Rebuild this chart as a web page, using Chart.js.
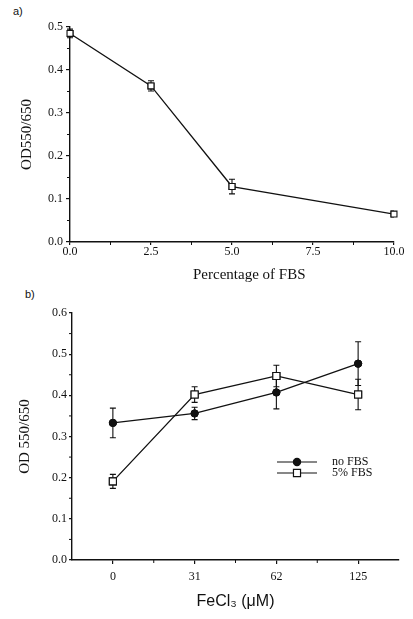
<!DOCTYPE html>
<html>
<head>
<meta charset="utf-8">
<script src="https://cdn.jsdelivr.net/npm/chart.js@4/dist/chart.umd.min.js"></script>
<style>
  body { margin: 0; background: #fff; width: 413px; height: 619px; position: relative; overflow: hidden; }
  .box { position: absolute; left: 0; }
  .lbl { position: absolute; font-family: "Liberation Sans", Arial, sans-serif; color: #111; }
  .ttl { position: absolute; font-family: "Liberation Serif", "Times New Roman", serif; color: #111; white-space: nowrap; }
</style>
</head>
<body>
<div class="lbl" style="left:13px; top:5px; font-size:11px;">a)</div>
<div class="lbl" style="left:25px; top:288px; font-size:11px;">b)</div>
<div class="box" style="top:0; width:413px; height:290px;"><canvas id="chartA" width="413" height="290"></canvas></div>
<div class="ttl" style="left:193px; top:266px; font-size:15px;">Percentage of FBS</div>
<div class="box" style="top:290px; width:413px; height:329px;"><canvas id="chartB" width="413" height="329"></canvas></div>

<script>
// Panel a: OD vs percentage of FBS
const fbsPercent = [0, 2.5, 5, 10];
const odFbs = [0.485, 0.363, 0.129, 0.065];
const odFbsErr = [0.010, 0.012, 0.017, 0.005];

// Panel b: OD vs FeCl3
const fecl3Labels = ['0', '31', '62', '125'];
const noFbs = [0.333, 0.356, 0.407, 0.477];
const noFbsErr = [0.036, 0.015, 0.040, 0.053];
const fbs5 = [0.191, 0.402, 0.447, 0.402];
const fbs5Err = [0.017, 0.019, 0.026, 0.037];

const serif = '"Liberation Serif", "Times New Roman", serif';
const ink = '#111';

// error bars, markers redrawn on top
const errorBars = {
  id: 'errorBars',
  afterDatasetsDraw(chart) {
    const ctx = chart.ctx;
    const ys = chart.scales.y;
    chart.data.datasets.forEach((ds, i) => {
      if (!ds.errors) return;
      const meta = chart.getDatasetMeta(i);
      meta.data.forEach((pt, j) => {
        const v = ds.data[j];
        const val = typeof v === 'object' ? v.y : v;
        const top = ys.getPixelForValue(val + ds.errors[j]);
        const bot = ys.getPixelForValue(val - ds.errors[j]);
        ctx.save();
        ctx.strokeStyle = ink;
        ctx.lineWidth = 1.1;
        ctx.beginPath();
        ctx.moveTo(pt.x, top); ctx.lineTo(pt.x, bot);
        ctx.moveTo(pt.x - 3, top); ctx.lineTo(pt.x + 3, top);
        ctx.moveTo(pt.x - 3, bot); ctx.lineTo(pt.x + 3, bot);
        ctx.stroke();
        ctx.restore();
      });
      meta.data.forEach(pt => pt.draw(ctx, chart.chartArea));
    });
  }
};

// minor ticks halfway between major ones
const minorTicks = {
  id: 'minorTicks',
  afterDraw(chart) {
    const ctx = chart.ctx;
    ctx.save();
    ctx.strokeStyle = ink;
    ctx.lineWidth = 1;
    const x = chart.scales.x, y = chart.scales.y;
    const xt = x.ticks, yt = y.ticks;
    ctx.beginPath();
    for (let i = 0; i < yt.length - 1; i++) {
      const p = y.getPixelForValue((yt[i].value + yt[i + 1].value) / 2);
      ctx.moveTo(y.right - 3, p); ctx.lineTo(y.right, p);
    }
    for (let i = 0; i < xt.length - 1; i++) {
      const p = x.getPixelForValue((xt[i].value + xt[i + 1].value) / 2);
      ctx.moveTo(p, x.top); ctx.lineTo(p, x.top + 3);
    }
    ctx.stroke();
    ctx.restore();
  }
};

// legend with a line through each marker
const lineLegend = {
  id: 'lineLegend',
  afterDraw(chart, args, opts) {
    if (!opts.show) return;
    const ctx = chart.ctx;
    chart.data.datasets.forEach((ds, i) => {
      const y = opts.y + i * opts.gap;
      const mx = opts.x + opts.len / 2;
      ctx.save();
      ctx.strokeStyle = ink;
      ctx.lineWidth = 1.2;
      ctx.beginPath();
      ctx.moveTo(opts.x, y); ctx.lineTo(opts.x + opts.len, y);
      ctx.stroke();
      ctx.fillStyle = ds.pointBackgroundColor;
      ctx.beginPath();
      if (ds.pointStyle === 'circle') {
        ctx.arc(mx, y, ds.pointRadius, 0, Math.PI * 2);
      } else {
        const s = ds.pointRadius * Math.SQRT1_2;
        ctx.rect(mx - s, y - s, 2 * s, 2 * s);
      }
      ctx.fill();
      ctx.stroke();
      ctx.fillStyle = ink;
      ctx.font = '12px ' + serif;
      ctx.textBaseline = 'middle';
      ctx.fillText(ds.label, opts.x + opts.len + 15, y);
      ctx.restore();
    });
  }
};

function yAxis(max, width, titleText, titlePad, tickLen, tickPad) {
  return {
    min: 0,
    max: max,
    afterFit: s => { s.width = width; },
    border: { color: ink, width: 1.4 },
    grid: { drawOnChartArea: false, color: ink, tickLength: tickLen, lineWidth: 1.2 },
    ticks: {
      stepSize: 0.1,
      color: ink,
      padding: tickPad,
      font: { family: serif, size: 12 },
      callback: v => v.toFixed(1)
    },
    title: {
      display: true,
      text: titleText,
      color: ink,
      padding: { top: titlePad, bottom: 0 },
      font: { family: serif, size: 15 }
    }
  };
}

new Chart(document.getElementById('chartA'), {
  type: 'line',
  data: {
    datasets: [{
      label: 'OD550/650',
      data: fbsPercent.map((x, i) => ({ x: x, y: odFbs[i] })),
      errors: odFbsErr,
      borderColor: ink,
      borderWidth: 1.3,
      pointStyle: 'rect',
      pointRadius: 4.2,
      pointBorderWidth: 1.1,
      pointBackgroundColor: '#fff',
      pointBorderColor: ink,
      tension: 0
    }]
  },
  options: {
    responsive: false,
    animation: false,
    layout: { padding: { top: 27, right: 19, left: 0, bottom: 0 } },
    plugins: { legend: { display: false }, tooltip: { enabled: false }, lineLegend: { show: false } },
    scales: {
      x: {
        type: 'linear',
        min: 0,
        max: 10,
        afterFit: s => { s.height = 48; },
        border: { color: ink, width: 1.4 },
        grid: { drawOnChartArea: false, color: ink, tickLength: 3, lineWidth: 1.2 },
        ticks: {
          stepSize: 2.5,
          color: ink,
          padding: 0,
          font: { family: serif, size: 12 },
          callback: v => v.toFixed(1)
        }
      },
      y: yAxis(0.5, 70, 'OD550/650', 18, 4, 3)
    }
  },
  plugins: [errorBars, minorTicks, lineLegend]
});

new Chart(document.getElementById('chartB'), {
  type: 'line',
  data: {
    labels: fecl3Labels,
    datasets: [{
      label: 'no FBS',
      data: noFbs,
      errors: noFbsErr,
      borderColor: ink,
      borderWidth: 1.3,
      pointStyle: 'circle',
      pointRadius: 3.6,
      pointBorderWidth: 1,
      pointBackgroundColor: ink,
      pointBorderColor: ink,
      tension: 0
    }, {
      label: '5% FBS',
      data: fbs5,
      errors: fbs5Err,
      borderColor: ink,
      borderWidth: 1.3,
      pointStyle: 'rect',
      pointRadius: 5,
      pointBorderWidth: 1.1,
      pointBackgroundColor: '#fff',
      pointBorderColor: ink,
      tension: 0
    }]
  },
  options: {
    responsive: false,
    animation: false,
    layout: { padding: { top: 23, right: 14, left: 0, bottom: 0 } },
    plugins: {
      legend: { display: false },
      tooltip: { enabled: false },
      lineLegend: { show: true, x: 277, y: 172, gap: 11, len: 40 }
    },
    scales: {
      x: {
        type: 'category',
        offset: true,
        afterFit: s => { s.height = 59; },
        border: { color: ink, width: 1.4 },
        grid: { drawOnChartArea: false, offset: false, color: ink, tickLength: 4, lineWidth: 1.2 },
        ticks: {
          color: ink,
          padding: 6,
          font: { family: serif, size: 12 }
        },
        title: {
          display: true,
          text: 'FeCl₃ (μM)',
          color: ink,
          padding: { top: 0, bottom: 8 },
          font: { family: '"Liberation Sans", Arial, sans-serif', size: 16 }
        }
      },
      y: yAxis(0.6, 72, 'OD 550/650', 16, 3, 2)
    }
  },
  plugins: [errorBars, minorTicks, lineLegend]
});
</script>
</body>
</html>
